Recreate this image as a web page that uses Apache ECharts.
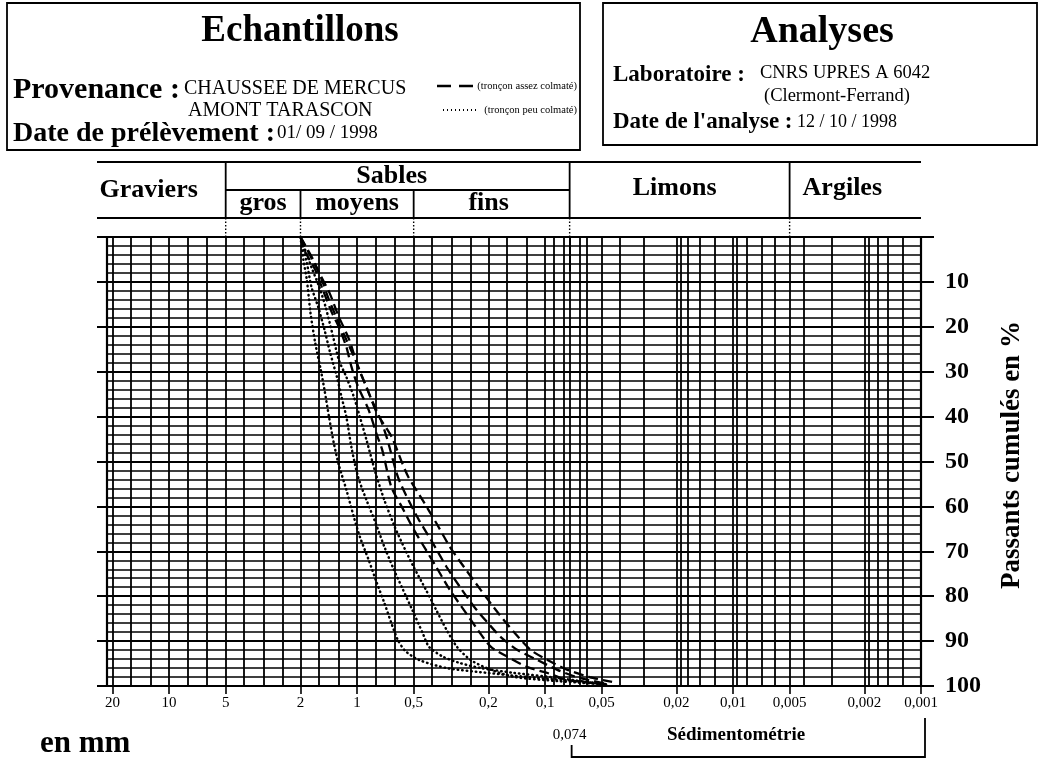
<!DOCTYPE html>
<html>
<head>
<meta charset="utf-8">
<title>Analyse granulométrique</title>
<script src="https://cdn.jsdelivr.net/npm/echarts@6/dist/echarts.min.js"></script>
<style>
html, body { margin: 0; padding: 0; background: #fff; }
#main { width: 1043px; height: 759px; }
</style>
</head>
<body>
<div id="main"></div>
<script>
// graduations de l'axe des diamètres (mm)
var tickLabels = [20, 10, 5, 2, 1, 0.5, 0.2, 0.1, 0.05, 0.02, 0.01, 0.005, 0.002, 0.001];
var sedimentStart = [0.074];
// lignes verticales du papier granulométrique
var gridLines = [20, 16, 12.5, 10, 8, 6.3, 5, 4, 3.15, 2.5, 2, 1.6, 1.25, 1, 0.8, 0.63, 0.5, 0.4, 0.315,
  0.25, 0.2, 0.16, 0.125, 0.1, 0.09, 0.08, 0.074, 0.065, 0.06, 0.05, 0.04, 0.03, 0.02, 0.019, 0.0175,
  0.015, 0.0125, 0.01, 0.0095, 0.0085, 0.007, 0.006, 0.005, 0.0042, 0.003, 0.002, 0.0019, 0.0017,
  0.0015, 0.00125, 0.001];
// limites des classes (mm)
var classLimits = [5, 2, 0.5, 0.074, 0.005];

// CHAUSSEE DE MERCUS (tronçon assez colmaté) : [diamètre mm, %]
var mercus1 = [[2, 0], [1.91, 2.9], [1.67, 7.3], [1.52, 11.8], [1.36, 16.9], [1.25, 20], [1.14, 24.5],
  [1.07, 29], [0.987, 33.4], [0.868, 38.5], [0.784, 44.1], [0.735, 47.4], [0.657, 55.7], [0.578, 60.1],
  [0.508, 64.6], [0.43, 69.7], [0.379, 73.5], [0.321, 78.6], [0.27, 83.1], [0.228, 87.5], [0.194, 91.3],
  [0.158, 93.5], [0.124, 95.8], [0.097, 97.1], [0.076, 98.7], [0.047, 99.6]];
var mercus2 = [[2, 0], [1.71, 5.1], [1.56, 8.9], [1.41, 14], [1.27, 18.5], [1.14, 22.9], [1.02, 27.4],
  [0.926, 31.8], [0.836, 36.3], [0.747, 40.8], [0.689, 45.2], [0.606, 53.5], [0.533, 58.6], [0.469, 63],
  [0.395, 68.2], [0.334, 73.5], [0.283, 78], [0.238, 82.4], [0.201, 86], [0.172, 89.1], [0.14, 92],
  [0.11, 94.2], [0.086, 96.4], [0.068, 98], [0.046, 99.6]];
var mercus3 = [[2, 0], [1.59, 8], [1.4, 12.5], [1.25, 17.8], [1.1, 22.9], [0.987, 29], [0.891, 33.4],
  [0.784, 39.2], [0.655, 44.5], [0.576, 50.3], [0.533, 53.5], [0.448, 58.6], [0.379, 63.7], [0.321, 69],
  [0.27, 73.5], [0.22, 78.6], [0.178, 83.7], [0.145, 88.2], [0.119, 92], [0.097, 94.2], [0.076, 96.4],
  [0.058, 98], [0.044, 99.1]];
// AMONT TARASCON (tronçon peu colmaté)
var tarascon1 = [[2, 0], [1.93, 5.1], [1.85, 9.6], [1.77, 16.9], [1.67, 23.6], [1.56, 29.6], [1.49, 34.1],
  [1.41, 40.1], [1.33, 45.9], [1.25, 50.8], [1.14, 56.3], [1.04, 62.4], [0.966, 66.8], [0.868, 71.9],
  [0.784, 77.1], [0.716, 81.5], [0.657, 86], [0.606, 89.8], [0.554, 92.2], [0.469, 94.2], [0.334, 96],
  [0.201, 97.1], [0.11, 98.2], [0.053, 99.3], [0.047, 99.8]];
var tarascon2 = [[2, 0], [1.85, 5.8], [1.75, 11.1], [1.61, 15.6], [1.49, 20.7], [1.39, 25.8], [1.28, 31.2],
  [1.21, 35.6], [1.14, 40.1], [1.07, 47], [0.987, 53.5], [0.891, 58.6], [0.797, 63.7], [0.716, 69],
  [0.646, 73.5], [0.578, 78], [0.508, 83.1], [0.448, 88.2], [0.414, 91.3], [0.348, 93.5], [0.283, 94.9],
  [0.22, 96], [0.145, 97.1], [0.086, 98.2], [0.05, 99.6]];
var tarascon3 = [[2, 0], [1.75, 6.7], [1.59, 11.1], [1.47, 15.6], [1.34, 22.3], [1.25, 27.4], [1.14, 31.2],
  [1.04, 35.6], [0.966, 40.1], [0.891, 45.2], [0.797, 52.6], [0.716, 58.6], [0.63, 64.6], [0.554, 69.7],
  [0.5, 73.5], [0.43, 78.6], [0.379, 83.1], [0.334, 87.5], [0.294, 91.3], [0.249, 94.2], [0.194, 96.4],
  [0.145, 98], [0.086, 98.9], [0.05, 99.6]];

var serif = "'Liberation Serif', 'Times New Roman', serif";
var ink = '#000';

function fmtMm(v) {
  return String(+(+v).toPrecision(6)).replace('.', ',');
}

function dashed(name, data) {
  return {
    name: name, type: 'line', data: data, smooth: 0.25, symbol: 'none',
    xAxisIndex: 0, yAxisIndex: 0,
    lineStyle: { color: ink, width: 2.3, type: [10, 5] }
  };
}
function dotted(name, data) {
  return {
    name: name, type: 'line', data: data, smooth: 0.25, symbol: 'none',
    xAxisIndex: 0, yAxisIndex: 0,
    lineStyle: { color: ink, width: 2.5, type: [0.5, 4], cap: 'round' }
  };
}

var xBase = { type: 'log', logBase: 10, min: 0.001, max: 21.4, inverse: true, position: 'bottom' };

var chart = echarts.init(document.getElementById('main'));
chart.setOption({
  animation: false,
  backgroundColor: '#fff',
  grid: { left: 107, right: 122, top: 237, bottom: 73, containLabel: false, outerBoundsMode: 'none' },
  xAxis: [
    Object.assign({}, xBase, {
      axisLine: { show: false },
      axisTick: { show: false, customValues: gridLines },
      axisLabel: { show: false },
      splitLine: { show: true, lineStyle: { color: ink, width: 1.8 } }
    }),
    Object.assign({}, xBase, {
      axisLine: { show: true, onZero: false, lineStyle: { color: ink, width: 2.2 } },
      axisTick: { show: true, inside: false, length: 8, customValues: tickLabels, lineStyle: { color: ink, width: 1.6 } },
      axisLabel: { show: true, margin: 10, customValues: tickLabels, color: ink, fontFamily: serif, fontSize: 15, formatter: fmtMm },
      splitLine: { show: false }
    }),
    Object.assign({}, xBase, {
      axisLine: { show: false },
      axisTick: { show: true, inside: false, length: 34, customValues: sedimentStart, lineStyle: { color: ink, width: 2 } },
      axisLabel: { show: true, margin: 42, customValues: sedimentStart, color: ink, fontFamily: serif, fontSize: 15, formatter: fmtMm },
      splitLine: { show: false }
    })
  ],
  yAxis: [
    {
      type: 'value', min: 0, max: 100, interval: 10, inverse: true, position: 'right',
      axisLine: { show: true, lineStyle: { color: ink, width: 2.2 } },
      axisTick: { show: true, inside: false, length: 13, lineStyle: { color: ink, width: 2 } },
      axisLabel: {
        margin: 24, color: ink, fontFamily: serif, fontSize: 24, fontWeight: 'bold',
        formatter: function (v) { return v === 0 ? '' : String(v); }
      },
      splitLine: { show: true, lineStyle: { color: ink, width: 2 } },
      minorTick: { show: false, splitNumber: 5 },
      minorSplitLine: { show: true, lineStyle: { color: ink, width: 1.5 } }
    },
    {
      type: 'value', min: 0, max: 100, interval: 10, inverse: true, position: 'left',
      axisLine: { show: true, lineStyle: { color: ink, width: 2.2 } },
      axisTick: { show: true, inside: false, length: 10, lineStyle: { color: ink, width: 2 } },
      axisLabel: { show: false },
      splitLine: { show: false }
    }
  ],
  series: [
    dashed('CHAUSSEE DE MERCUS 1', mercus1),
    dashed('CHAUSSEE DE MERCUS 2', mercus2),
    dashed('CHAUSSEE DE MERCUS 3', mercus3),
    dotted('AMONT TARASCON 1', tarascon1),
    dotted('AMONT TARASCON 2', tarascon2),
    dotted('AMONT TARASCON 3', tarascon3)
  ]
});

// en-tête des classes et cadres, placés d'après l'axe
function px(d) { return chart.convertToPixel({ xAxisIndex: 0 }, d); }
var xs = classLimits.map(px);
var xL = 97, xR = 921, yT = 162, yM = 190, yB = 218, yG = 237;

function line(x1, y1, x2, y2, w, dash) {
  return { type: 'line', shape: { x1: x1, y1: y1, x2: x2, y2: y2 },
    style: { stroke: ink, lineWidth: w || 1.5, lineDash: dash || null }, silent: true };
}
function text(x, y, s, size, bold, align) {
  return { type: 'text', x: x, y: y, silent: true,
    style: { text: s, fill: ink, fontFamily: serif, fontSize: size, fontWeight: bold ? 'bold' : 'normal',
      align: align || 'left', verticalAlign: 'middle' } };
}

var g = [];
// cadres du haut
g.push({ type: 'rect', shape: { x: 7, y: 3, width: 573, height: 147 }, style: { fill: null, stroke: ink, lineWidth: 1.8 }, silent: true });
g.push({ type: 'rect', shape: { x: 603, y: 3, width: 434, height: 142 }, style: { fill: null, stroke: ink, lineWidth: 1.8 }, silent: true });
g.push(text(300, 31, 'Echantillons', 37, true, 'center'));
g.push(text(13, 90, 'Provenance :', 30, true));
g.push(text(184, 89, 'CHAUSSEE DE MERCUS', 20, false));
g.push(line(437, 86, 473, 86, 2.5, [14, 8]));
g.push(text(577, 86, '(tronçon assez colmaté)', 10.5, false, 'right'));
g.push(text(188, 111, 'AMONT TARASCON', 20, false));
g.push(line(443, 110, 478, 110, 2, [1, 3]));
g.push(text(577, 110, '(tronçon peu colmaté)', 10.5, false, 'right'));
g.push(text(13, 134, 'Date de prélèvement :', 28, true));
g.push(text(277, 133, '01/ 09 / 1998', 19, false));
g.push(text(822, 32, 'Analyses', 38, true, 'center'));
g.push(text(613, 75, 'Laboratoire :', 23, true));
g.push(text(760, 73, 'CNRS UPRES A 6042', 18.5, false));
g.push(text(764, 96, '(Clermont-Ferrand)', 18.5, false));
g.push(text(613, 122, 'Date de l\'analyse :', 23, true));
g.push(text(797, 122, '12 / 10 / 1998', 18, false));

// tableau des classes
g.push(line(xL, yT, xR, yT, 1.8));
g.push(line(xs[0], yM, xs[3], yM, 1.8));
g.push(line(xL, yB, xR, yB, 1.8));
g.push(line(xs[0], yT, xs[0], yB, 1.8));
g.push(line(xs[1], yM, xs[1], yB, 1.8));
g.push(line(xs[2], yM, xs[2], yB, 1.8));
g.push(line(xs[3], yT, xs[3], yB, 1.8));
g.push(line(xs[4], yT, xs[4], yB, 1.8));
xs.forEach(function (x) { g.push(line(x, yB, x, yG, 1.4, [1.5, 2])); });
g.push(text(xs[0] - 77, 190, 'Graviers', 26, true, 'center'));
g.push(text((xs[0] + xs[3]) / 2 - 6, 176, 'Sables', 26, true, 'center'));
g.push(text((xs[0] + xs[1]) / 2, 203, 'gros', 26, true, 'center'));
g.push(text((xs[1] + xs[2]) / 2, 203, 'moyens', 26, true, 'center'));
g.push(text((xs[2] + xs[3]) / 2 - 3, 203, 'fins', 26, true, 'center'));
g.push(text((xs[3] + xs[4]) / 2 - 5, 188, 'Limons', 26, true, 'center'));
g.push(text((xs[4] + xR) / 2 - 13, 188, 'Argiles', 26, true, 'center'));

// sédimentométrie
var x074 = px(0.074), x001 = px(0.001);
g.push({ type: 'polyline', shape: { points: [[x074 + 2, 745], [x074 + 2, 757], [x001 + 4, 757], [x001 + 4, 718]] },
  style: { stroke: ink, lineWidth: 1.8, fill: null }, silent: true });
g.push(text(736, 735, 'Sédimentométrie', 19, true, 'center'));
g.push(text(40, 744, 'en mm', 31, true, 'left'));
g.push({ type: 'text', x: 1012, y: 455, rotation: Math.PI / 2, silent: true,
  style: { text: 'Passants cumulés en %', fill: ink, fontFamily: serif, fontSize: 27, fontWeight: 'bold',
    align: 'center', verticalAlign: 'middle' } });

chart.setOption({ graphic: g });
</script>
</body>
</html>
